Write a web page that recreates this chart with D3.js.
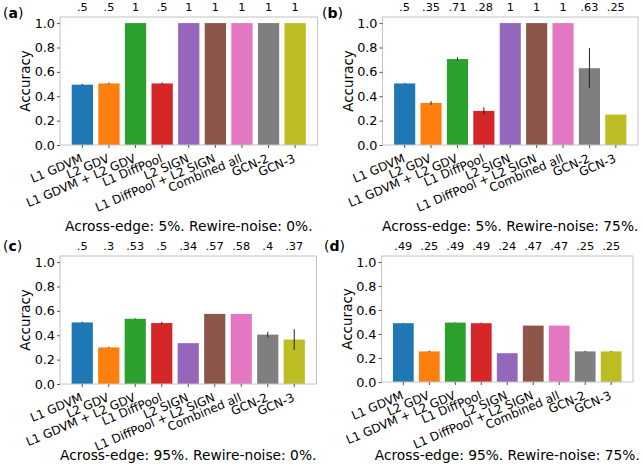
<!DOCTYPE html>
<html><head><meta charset="utf-8">
<script src="https://cdn.jsdelivr.net/npm/d3@7"></script>
<style>
body{margin:0;background:#fff;}
text{font-family:"DejaVu Sans",sans-serif;fill:#000;}
</style></head>
<body><svg id="chart" width="643" height="475"></svg>
<script>
const categories = ["L1 GDVM","L2 GDV","L1 GDVM + L2 GDV","L1 DiffPool","L2 SIGN","L1 DiffPool + L2 SIGN","Combined all","GCN-2","GCN-3"];
const colors = ["#1f77b4","#ff7f0e","#2ca02c","#d62728","#9467bd","#8c564b","#e377c2","#7f7f7f","#bcbd22"];
const yTicks = [0,0.2,0.4,0.6,0.8,1.0];
const panelTags = ["a","b","c","d"];
const captions = ["Across-edge: 5%. Rewire-noise: 0%.","Across-edge: 5%. Rewire-noise: 75%.","Across-edge: 95%. Rewire-noise: 0%.","Across-edge: 95%. Rewire-noise: 75%."];

const valuesA = [0.495,0.505,1,0.505,1,1,1,1,1];
const errorsA = [0.005,0.006,0,0.008,0,0,0,0,0];
const labelsA = [".5",".5","1",".5","1","1","1","1","1"];

const valuesB = [0.505,0.345,0.705,0.28,1,1,1,0.63,0.25];
const errorsB = [0.004,0.015,0.015,0.03,0,0,0,0.165,0];
const labelsB = [".5",".35",".71",".28","1","1","1",".63",".25"];

const valuesC = [0.505,0.30,0.535,0.50,0.335,0.575,0.575,0.405,0.365];
const errorsC = [0.006,0.005,0.003,0.01,0,0,0,0.022,0.085];
const labelsC = [".5",".3",".53",".5",".34",".57",".58",".4",".37"];

const valuesD = [0.49,0.255,0.495,0.49,0.24,0.47,0.47,0.255,0.255];
const errorsD = [0.003,0.005,0.002,0.005,0,0,0,0.004,0.003];
const labelsD = [".49",".25",".49",".49",".24",".47",".47",".25",".25"];

const panelData = [
  {v:valuesA,e:errorsA,l:labelsA},
  {v:valuesB,e:errorsB,l:labelsB},
  {v:valuesC,e:errorsC,l:labelsC},
  {v:valuesD,e:errorsD,l:labelsD}
];
const frames = [
  {left:60,right:317.5,top:17,bottom:145,tagX:3,tagY:18},
  {left:382.5,right:638,top:17,bottom:145,tagX:322,tagY:18},
  {left:60,right:316.5,top:256,bottom:384,tagX:3,tagY:251},
  {left:381.5,right:633,top:256,bottom:382,tagX:324,tagY:251}
];
const capY = [231,231,460,460];
const angle = 23;

const svg = d3.select("#chart");
panelData.forEach((pd,i)=>{
  const f = frames[i];
  const g = svg.append("g");
  const x = d3.scaleBand().domain(categories).range([f.left,f.right]).paddingInner(0.2).paddingOuter(0.44);
  const y = d3.scaleLinear().domain([0,1.05]).range([f.bottom,f.top]);
  const data = categories.map((c,j)=>({c,v:pd.v[j],e:pd.e[j],l:pd.l[j],col:colors[j]}));

  g.selectAll("rect.bar").data(data).join("rect").attr("class","bar")
    .attr("x",d=>x(d.c)).attr("width",x.bandwidth())
    .attr("y",d=>y(d.v)).attr("height",d=>y(0)-y(d.v))
    .attr("fill",d=>d.col);
  g.selectAll("line.err").data(data.filter(d=>d.e>0)).join("line").attr("class","err")
    .attr("x1",d=>x(d.c)+x.bandwidth()/2).attr("x2",d=>x(d.c)+x.bandwidth()/2)
    .attr("y1",d=>y(d.v+d.e)).attr("y2",d=>y(d.v-d.e))
    .attr("stroke","#222").attr("stroke-width",1);

  g.append("rect").attr("x",f.left).attr("y",f.top).attr("width",f.right-f.left).attr("height",f.bottom-f.top)
    .attr("fill","none").attr("stroke","#c4c4c4").attr("stroke-width",1);

  const ya = d3.axisLeft(y).tickValues(yTicks).tickFormat(d3.format(".1f")).tickSize(3).tickPadding(2);
  const yg = g.append("g").attr("transform",`translate(${f.left},0)`).call(ya);
  yg.select(".domain").remove();
  yg.selectAll(".tick line").attr("stroke","#555");
  yg.selectAll(".tick text").attr("font-size","12.8px").attr("font-family","DejaVu Sans");

  const xa = d3.axisBottom(x).tickSize(3).tickFormat("");
  const xg = g.append("g").attr("transform",`translate(0,${f.bottom})`).call(xa);
  xg.select(".domain").remove();
  xg.selectAll(".tick line").attr("stroke","#555");
  g.selectAll("text.xl").data(data).join("text").attr("class","xl")
    .attr("transform",d=>`translate(${x(d.c)+x.bandwidth()/2+1},${f.bottom+16.5}) rotate(${-angle})`)
    .attr("text-anchor","end").attr("font-size","12px").text(d=>d.c);

  g.selectAll("text.vl").data(data).join("text").attr("class","vl")
    .attr("x",d=>x(d.c)+x.bandwidth()/2).attr("y",f.top-6)
    .attr("text-anchor","middle").attr("font-size","11.3px").text(d=>d.l);

  g.append("text").attr("transform",`translate(${f.left-30},${(f.top+f.bottom)/2}) rotate(-90)`)
    .attr("text-anchor","middle").attr("font-size","13.5px").text("Accuracy");

  const t = g.append("text").attr("x",f.tagX).attr("y",f.tagY).attr("font-size","14px");
  t.append("tspan").text("(");
  t.append("tspan").attr("font-weight","bold").text(panelTags[i]);
  t.append("tspan").text(")");

  g.append("text").attr("x",(f.left+f.right)/2).attr("y",capY[i]).attr("text-anchor","middle")
    .attr("font-size","13.8px").text(captions[i]);
});
</script></body></html>
